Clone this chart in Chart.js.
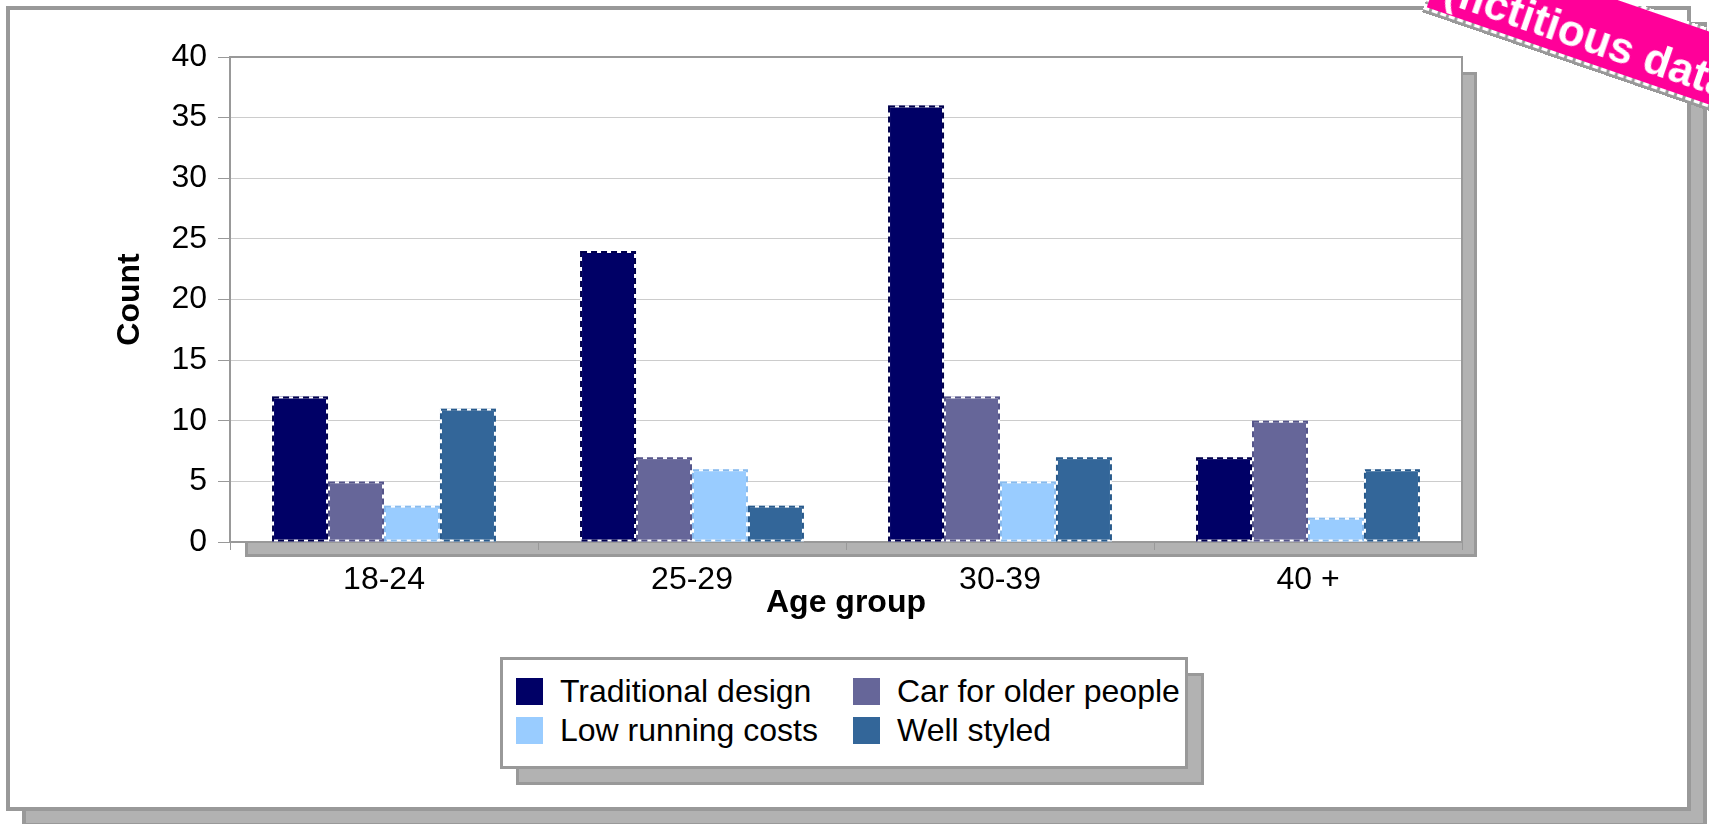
<!DOCTYPE html>
<html>
<head>
<meta charset="utf-8">
<title>Age group chart</title>
<script src="https://cdn.jsdelivr.net/npm/chart.js@4"></script>
<style>
  body { margin: 0; width: 1709px; height: 824px; overflow: hidden; background: #fff; position: relative;
         font-family: "Liberation Sans", Arial, sans-serif; }
  .box { position: absolute; box-sizing: border-box; }
  #frameShadow { left: 22px; top: 22px; width: 1685px; height: 805px; background: #b2b2b2; border: 4px solid #999; }
  #frame { left: 6px; top: 6px; width: 1685px; height: 805px; background: #fff; border: 4px solid #999; }
  #myChart { position: absolute; left: 0; top: 0; }
  #legendShadow { left: 516px; top: 673px; width: 688px; height: 112px; background: #b2b2b2; border: 3px solid #999; }
  #legend { left: 500px; top: 657px; width: 688px; height: 112px; background: #fff; border: 3px solid #999;
            padding: 12px 0 0 13px; display: grid; grid-template-columns: 337px auto; grid-auto-rows: 39px; }
  .item { display: flex; align-items: center; font-size: 32px; color: #000; white-space: nowrap; }
  .swatch { width: 27px; height: 27px; margin-right: 17px; flex: none; }
  #stampWrap { left: 1422px; top: -63px; width: 560px; height: 75px; background: #999;
               transform-origin: 0 100%; transform: rotate(19deg); }
  #stamp { position: relative; top: -3px; height: 75px; box-sizing: border-box; border: 3px dashed #fff;
           background: #ff0099; background-clip: padding-box; color: #fff; font-weight: bold;
           font-size: 44px; line-height: 44px; padding: 22px 0 3px 12px; white-space: nowrap; }
</style>
</head>
<body>
<div id="frameShadow" class="box"></div>
<div id="frame" class="box"></div>
<canvas id="myChart" width="1709" height="824"></canvas>
<div id="legendShadow" class="box"></div>
<div id="legend" class="box"></div>
<div id="stampWrap" class="box"><div id="stamp">(fictitious data)</div></div>
<script>
const categories = ['18-24', '25-29', '30-39', '40 +'];
const seriesNames = ['Traditional design', 'Car for older people', 'Low running costs', 'Well styled'];
const traditionalDesign = [12, 24, 36, 7];
const carForOlderPeople = [5, 7, 12, 10];
const lowRunningCosts = [3, 6, 5, 2];
const wellStyled = [11, 3, 7, 6];
const seriesColors = ['#000066', '#666699', '#99ccff', '#336699'];
const edgeColors = ['#00004d', '#55558a', '#88bbee', '#285a8c'];
const yMax = 40;
const yStep = 5;

const seriesValues = [traditionalDesign, carForOlderPeople, lowRunningCosts, wellStyled];

Chart.defaults.font.family = '"Liberation Sans", Arial, sans-serif';
Chart.defaults.font.size = 32;
Chart.defaults.color = '#000';

// grey shadow + white plot area, then the frame round it
const plotFrame = {
  id: 'plotFrame',
  beforeDraw(chart) {
    const c = chart.ctx, a = chart.chartArea;
    c.save();
    c.fillStyle = '#b2b2b2';
    c.fillRect(a.left + 15, a.top + 15, a.width, a.height);
    c.lineWidth = 3;
    c.strokeStyle = '#999';
    c.strokeRect(a.left + 16.5, a.top + 16.5, a.width - 3, a.height - 3);
    c.fillStyle = '#fff';
    c.fillRect(a.left, a.top, a.width, a.height);
    c.restore();
  },
  beforeDatasetsDraw(chart) {
    const c = chart.ctx, a = chart.chartArea;
    c.save();
    c.lineWidth = 2;
    c.strokeStyle = '#999';
    c.strokeRect(a.left, a.top, a.width, a.height);
    c.restore();
  }
};

// dashed outline on each bar
const barOutline = {
  id: 'barOutline',
  afterDatasetsDraw(chart) {
    const c = chart.ctx;
    chart.data.datasets.forEach((ds, i) => {
      chart.getDatasetMeta(i).data.forEach(bar => {
        const p = bar.getProps(['x', 'y', 'base', 'width'], true);
        const l = p.x - p.width / 2 + 1, t = p.y + 1, w = p.width - 2, h = p.base - p.y - 2;
        c.save();
        c.lineWidth = 2;
        c.strokeStyle = '#fff';
        c.strokeRect(l, t, w, h);
        c.setLineDash([6, 4]);
        c.strokeStyle = edgeColors[i];
        c.strokeRect(l, t, w, h);
        c.restore();
      });
    });
  }
};

const ctx = document.getElementById('myChart');

const chart = new Chart(ctx, {
  type: 'bar',
  data: {
    labels: categories,
    datasets: seriesNames.map((name, i) => ({
      label: name,
      data: seriesValues[i],
      backgroundColor: seriesColors[i],
      borderWidth: 0,
      categoryPercentage: 0.727,
      barPercentage: 1
    }))
  },
  options: {
    responsive: false,
    animation: false,
    layout: { padding: { left: 100, top: 57, right: 247, bottom: 202 } },
    plugins: {
      legend: { display: false },
      tooltip: { enabled: false }
    },
    scales: {
      x: {
        grid: { offset: true, drawOnChartArea: false, color: '#999', tickLength: 8 },
        border: { display: false },
        ticks: { padding: 11 },
        title: { display: true, text: 'Age group', font: { size: 32, weight: 'bold' }, padding: 0 },
        afterFit(scale) { scale.height = 80; }
      },
      y: {
        min: 0,
        max: yMax,
        ticks: { stepSize: yStep, padding: 11 },
        grid: { color: '#ccc', tickColor: '#999', tickLength: 12 },
        border: { display: false },
        title: { display: true, text: 'Count', font: { size: 32, weight: 'bold' }, padding: { top: 11, bottom: 0 } },
        afterFit(scale) { scale.width = 130; }
      }
    }
  },
  plugins: [plotFrame, barOutline]
});

// legend in two columns, built from the chart's datasets
const legendEl = document.getElementById('legend');
chart.data.datasets.forEach(ds => {
  const item = document.createElement('div');
  item.className = 'item';
  const sw = document.createElement('span');
  sw.className = 'swatch';
  sw.style.background = ds.backgroundColor;
  item.appendChild(sw);
  item.appendChild(document.createTextNode(ds.label));
  legendEl.appendChild(item);
});
</script>
</body>
</html>
